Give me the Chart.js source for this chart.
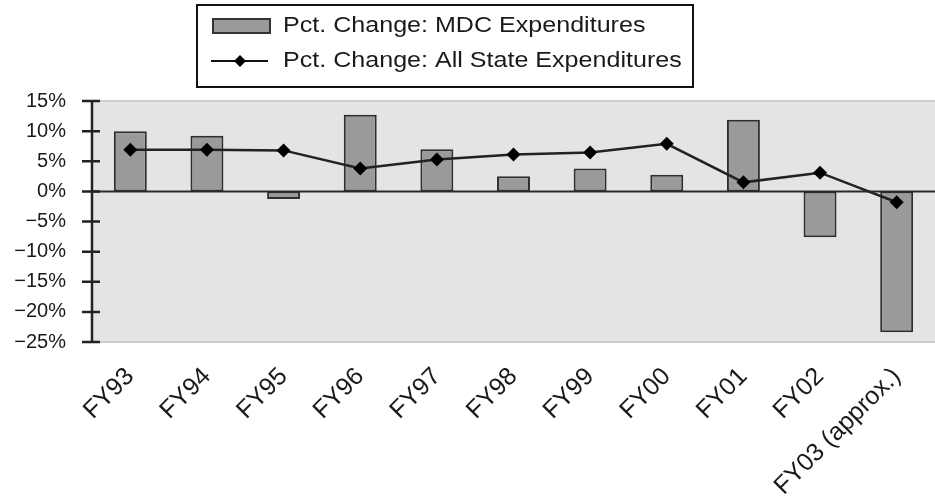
<!DOCTYPE html>
<html>
<head>
<meta charset="utf-8">
<script src="https://cdn.jsdelivr.net/npm/chart.js@4"></script>
<style>
  html, body { margin: 0; padding: 0; background: #fff; overflow: hidden; }
  #wrap { width: 935px; height: 504px; overflow: hidden; }
</style>
</head>
<body>
<div id="wrap"><canvas id="mdcChart" width="942" height="504"></canvas></div>
<script>
// Fiscal years
const years = ['FY93', 'FY94', 'FY95', 'FY96', 'FY97', 'FY98', 'FY99', 'FY00',
  'FY01', 'FY02', 'FY03 (approx.)'];
// Pct. change in MDC expenditures (bars)
const mdcChange = [10.0, 9.25, -1.25, 12.7, 7.0, 2.5, 3.8, 2.75, 11.9, -7.6, -23.4];
// Pct. change in all state expenditures (line)
const stateChange = [6.9, 6.9, 6.8, 3.8, 5.3, 6.1, 6.45, 7.9, 1.5, 3.1, -1.8];
// y tick values
const yTicks = [15, 10, 5, 0, -5, -10, -15, -20, -25];
const legendLabels = ['Pct. Change: MDC Expenditures', 'Pct. Change: All State Expenditures'];

const FONT = '"Liberation Sans", Arial, sans-serif';

// plot background, zero line, axis with crossing ticks
const frame = {
  id: 'frame',
  beforeDatasetsDraw(chart) {
    const {ctx, chartArea: a} = chart;
    ctx.save();
    ctx.fillStyle = '#e4e4e4';
    ctx.fillRect(a.left, a.top, a.right - a.left, a.bottom - a.top);
    ctx.strokeStyle = '#cccccc';
    ctx.lineWidth = 2;
    ctx.beginPath();
    ctx.moveTo(a.left, a.top); ctx.lineTo(a.right, a.top);
    ctx.moveTo(a.left, a.bottom); ctx.lineTo(a.right, a.bottom);
    ctx.stroke();
    ctx.restore();
  },
  afterDatasetsDraw(chart) {
    const {ctx, chartArea: a, scales: {y}} = chart;
    ctx.save();
    ctx.strokeStyle = '#2a2a2a';
    ctx.lineWidth = 2;
    const y0 = y.getPixelForValue(0);
    ctx.beginPath();
    ctx.moveTo(a.left, y0); ctx.lineTo(a.right, y0);
    ctx.stroke();
    ctx.strokeStyle = '#222';
    ctx.lineWidth = 2.5;
    ctx.beginPath();
    ctx.moveTo(a.left, a.top); ctx.lineTo(a.left, a.bottom);
    yTicks.forEach(v => {
      const py = y.getPixelForValue(v);
      ctx.moveTo(a.left - 10, py); ctx.lineTo(a.left + 8, py);
    });
    ctx.stroke();
    ctx.restore();
  }
};

// boxed legend at the top
const boxLegend = {
  id: 'boxLegend',
  afterDraw(chart) {
    const {ctx} = chart;
    ctx.save();
    ctx.strokeStyle = '#111';
    ctx.lineWidth = 2;
    ctx.strokeRect(197, 5, 496, 82);
    // bar swatch
    ctx.fillStyle = '#9a9a9a';
    ctx.strokeStyle = '#333';
    ctx.lineWidth = 2;
    ctx.fillRect(213, 19, 57, 14);
    ctx.strokeRect(213, 19, 57, 14);
    // line swatch
    ctx.strokeStyle = '#111';
    ctx.beginPath();
    ctx.moveTo(211, 61); ctx.lineTo(268, 61);
    ctx.stroke();
    ctx.fillStyle = '#000';
    ctx.beginPath();
    ctx.moveTo(240, 55); ctx.lineTo(246, 61); ctx.lineTo(240, 67); ctx.lineTo(234, 61);
    ctx.closePath();
    ctx.fill();
    // text is a bit wider than plain Arial in the reference
    ctx.font = '22px ' + FONT;
    ctx.fillStyle = '#1a1a1a';
    ctx.textBaseline = 'middle';
    ctx.translate(283, 0);
    ctx.scale(1.14, 1);
    ctx.fillText(legendLabels[0], 0, 26);
    ctx.fillText(legendLabels[1], 0, 61);
    ctx.restore();
  }
};

const ctx = document.getElementById('mdcChart').getContext('2d');
new Chart(ctx, {
  data: {
    labels: years,
    datasets: [
      {
        type: 'line',
        label: legendLabels[1],
        data: stateChange,
        borderColor: '#222',
        borderWidth: 2.5,
        pointStyle: 'rectRot',
        pointRadius: 7,
        pointBackgroundColor: '#000',
        pointBorderColor: '#000',
        pointBorderWidth: 0,
        tension: 0
      },
      {
        type: 'bar',
        label: legendLabels[0],
        data: mdcChange,
        backgroundColor: '#9a9a9a',
        borderColor: '#2f2f2f',
        borderWidth: 2,
        borderSkipped: false,
        categoryPercentage: 1,
        barPercentage: 0.43
      }
    ]
  },
  options: {
    responsive: false,
    animation: false,
    layout: {padding: {top: 101, right: 0, left: 0, bottom: 0}},
    plugins: {legend: {display: false}, tooltip: {enabled: false}},
    scales: {
      x: {
        grid: {display: false, drawTicks: false},
        border: {display: false},
        ticks: {
          color: '#1a1a1a',
          font: {family: FONT, size: 25},
          minRotation: 45,
          maxRotation: 45,
          padding: 20,
          autoSkip: false
        },
        afterFit(scale) {
          scale.height = 162;
        }
      },
      y: {
        min: -25,
        max: 15,
        grid: {display: false, drawTicks: false},
        border: {display: false},
        ticks: {
          stepSize: 5,
          color: '#1a1a1a',
          font: {family: FONT, size: 20},
          padding: 26,
          callback: v => (v < 0 ? '\u2212' + Math.abs(v) : v) + '%'
        },
        afterFit(scale) { scale.width = 92; }
      }
    }
  },
  plugins: [frame, boxLegend]
});
</script>
</body>
</html>
